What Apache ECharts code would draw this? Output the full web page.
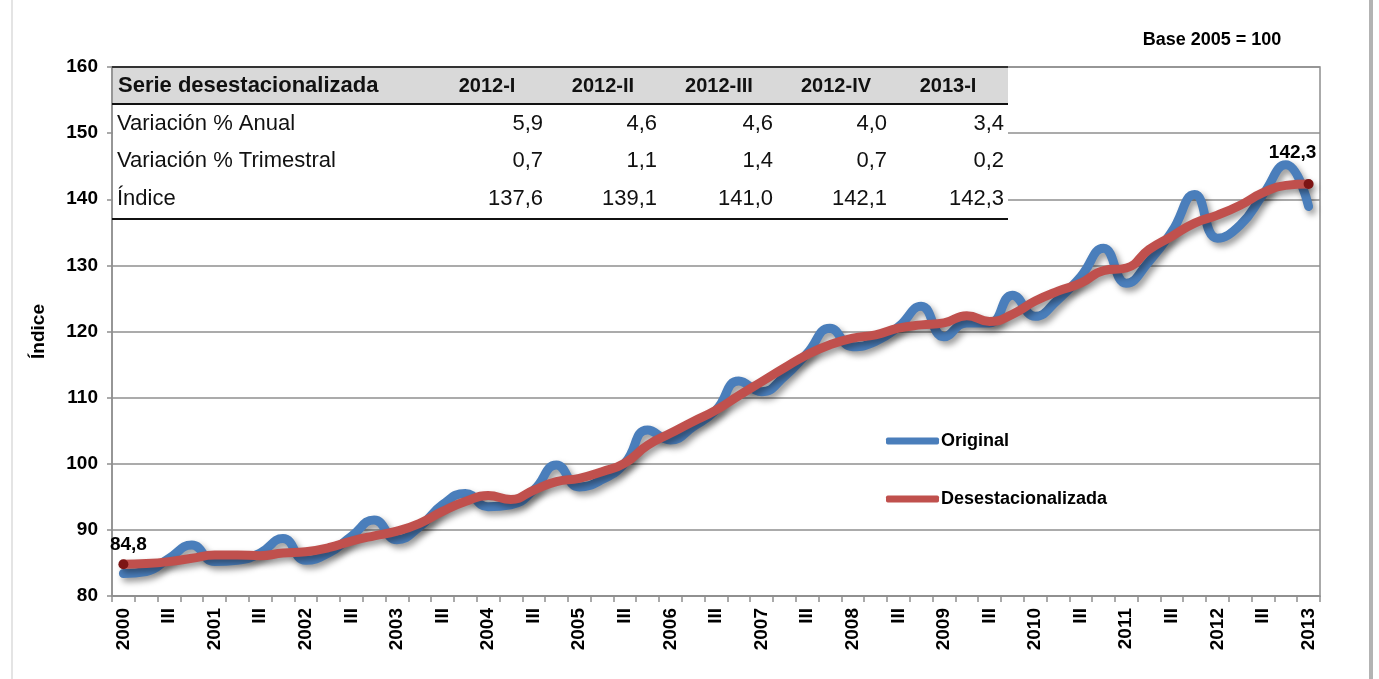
<!DOCTYPE html>
<html lang="es">
<head>
<meta charset="utf-8">
<title>Serie desestacionalizada</title>
<script src="https://cdn.jsdelivr.net/npm/echarts@6/dist/echarts.min.js"></script>
<style>
  html, body { margin: 0; padding: 0; background: #fff; }
  #main { width: 1379px; height: 679px; }
</style>
</head>
<body>
<div id="main"></div>
<script>
    // categorias: trimestres 2000-I ... 2013-I
    var years = [2000, 2001, 2002, 2003, 2004, 2005, 2006, 2007, 2008, 2009, 2010, 2011, 2012];
    var quarterNames = ['I', 'II', 'III', 'IV'];
    var categories = [];
    years.forEach(function (y) {
        quarterNames.forEach(function (q) { categories.push(y + '-' + q); });
    });
    categories.push('2013-I');

    // indice original
    var original = [
        83.4, 83.7, 85.7, 87.7,
        85.2, 85.4, 86.5, 88.7,
        85.4, 86.5, 89.0, 91.5,
        88.5, 90.5, 93.8, 95.5,
        93.5, 93.8, 96.0, 99.8,
        96.5, 97.6, 100.1, 105.1,
        103.6, 105.6, 108.1, 112.5,
        110.9, 113.2, 116.7, 120.5,
        117.7, 118.5, 120.7, 123.8,
        119.2, 121.3, 121.3, 125.5,
        122.3, 124.8, 128.3, 132.6,
        127.3, 130.6, 135.1, 140.7,
        134.1, 136.1, 140.7, 145.2,
        138.9
    ];
    // indice desestacionalizado
    var desest = [
        84.8, 84.9, 85.2, 85.7,
        86.2, 86.2, 86.1, 86.5,
        86.7, 87.3, 88.3, 89.1,
        89.8, 91.0, 92.8, 94.3,
        95.2, 94.6, 96.0, 97.3,
        97.8, 98.8, 100.1, 102.8,
        104.6, 106.4, 108.1, 110.3,
        112.4, 114.5, 116.5, 118.0,
        119.0, 119.5, 120.5, 121.0,
        121.3, 122.4, 121.5, 122.6,
        124.6, 126.1, 127.3, 129.2,
        129.6, 132.4, 134.4, 136.4,
        137.6, 139.1, 141.0, 142.1,
        142.3
    ];

    // tabla
    var tableTitle = 'Serie desestacionalizada';
    var tableCols = ['2012-I', '2012-II', '2012-III', '2012-IV', '2013-I'];
    var rowLabels = ['Variación % Anual', 'Variación % Trimestral', 'Índice'];
    var varAnual = ['5,9', '4,6', '4,6', '4,0', '3,4'];
    var varTrim = ['0,7', '1,1', '1,4', '0,7', '0,2'];
    var indice = ['137,6', '139,1', '141,0', '142,1', '142,3'];

    var FONT = '"Liberation Sans", Arial, sans-serif';
    var gridColor = '#8f8f8f';

    // --- tabla como elementos graficos ---
    var colCenters = [487, 603, 719, 836, 948];
    var colRights = [543, 657, 773, 887, 1004];
    var rowY = [124, 161, 199];
    var TZ = 100;
    var tableEls = [
        { type: 'rect', z: TZ, shape: { x: 113, y: 68, width: 895, height: 151 }, style: { fill: '#fff' } },
        { type: 'rect', z: TZ + 1, shape: { x: 113, y: 68, width: 895, height: 35 }, style: { fill: '#d9d9d9' } },
        { type: 'line', z: TZ + 2, shape: { x1: 112, y1: 67, x2: 1008, y2: 67 }, style: { stroke: '#333', lineWidth: 2 } },
        { type: 'line', z: TZ + 2, shape: { x1: 112, y1: 104, x2: 1008, y2: 104 }, style: { stroke: '#111', lineWidth: 2 } },
        { type: 'line', z: TZ + 2, shape: { x1: 112, y1: 219, x2: 1008, y2: 219 }, style: { stroke: '#111', lineWidth: 2 } },
        { type: 'text', z: TZ + 3, x: 118, y: 86, style: { text: tableTitle, font: 'bold 22px ' + FONT, fill: '#111', align: 'left', verticalAlign: 'middle' } }
    ];
    tableCols.forEach(function (c, i) {
        tableEls.push({ type: 'text', z: TZ + 3, x: colCenters[i], y: 86,
            style: { text: c, font: 'bold 20px ' + FONT, fill: '#111', align: 'center', verticalAlign: 'middle' } });
    });
    rowLabels.forEach(function (r, j) {
        tableEls.push({ type: 'text', z: TZ + 3, x: 117, y: rowY[j],
            style: { text: r, font: '22px ' + FONT, fill: '#111', align: 'left', verticalAlign: 'middle' } });
    });
    [varAnual, varTrim, indice].forEach(function (row, j) {
        row.forEach(function (v, i) {
            tableEls.push({ type: 'text', z: TZ + 3, x: colRights[i], y: rowY[j],
                style: { text: v, font: '22px ' + FONT, fill: '#111', align: 'right', verticalAlign: 'middle' } });
        });
    });

    var graphicEls = [
        { type: 'line', z: 0, shape: { x1: 12, y1: 0, x2: 12, y2: 679 }, style: { stroke: '#e4e4e4', lineWidth: 2 } },
        { type: 'line', z: 0, shape: { x1: 1371, y1: 0, x2: 1371, y2: 679 }, style: { stroke: '#b3b3b3', lineWidth: 4 } },
        { type: 'text', z: TZ, x: 1212, y: 40,
          style: { text: 'Base 2005 = 100', font: 'bold 18px ' + FONT, fill: '#000', align: 'center', verticalAlign: 'middle' } }
    ].concat(tableEls);

    var lastIdx = desest.length - 1;
    var endLabel = {
        show: true,
        fontFamily: FONT, fontWeight: 'bold', fontSize: 19, color: '#000',
        formatter: function (p) { return String(p.value).replace('.', ','); }
    };
    var desestData = desest.map(function (v, i) {
        if (i === 0) {
            return { value: v, symbol: 'circle', symbolSize: 10, itemStyle: { color: '#7d1515' },
                label: Object.assign({}, endLabel, { position: 'top', offset: [5, 0] }) };
        }
        if (i === lastIdx) {
            return { value: v, symbol: 'circle', symbolSize: 10, itemStyle: { color: '#7d1515' },
                label: Object.assign({}, endLabel, { position: 'top', offset: [-16, -12] }) };
        }
        return v;
    });

    var lineShadow = { shadowColor: 'rgba(0,0,0,0.4)', shadowBlur: 6, shadowOffsetX: 3, shadowOffsetY: 4 };

    var myChart = echarts.init(document.getElementById('main'));
    var option = {
        animation: false,
        backgroundColor: '#fff',
        textStyle: { fontFamily: FONT },
        graphic: { elements: graphicEls },
        grid: { left: 112, right: 59, top: 67, bottom: 83, show: true, borderColor: gridColor, borderWidth: 1.5 },
        legend: {
            data: ['Original', 'Desestacionalizada'],
            orient: 'vertical',
            left: 886, top: 432,
            itemWidth: 53, itemHeight: 7, itemGap: 40,
            icon: 'roundRect',
            padding: 0,
            textStyle: { fontFamily: FONT, fontWeight: 'bold', fontSize: 18, color: '#000', padding: [0, 0, 0, -3] }
        },
        xAxis: {
            type: 'category',
            data: categories,
            boundaryGap: true,
            axisLine: { lineStyle: { color: gridColor, width: 1.5 } },
            axisTick: { show: true, interval: 0, length: 6, lineStyle: { color: gridColor, width: 1.5 } },
            axisLabel: {
                interval: 0, rotate: 90, margin: 12,
                fontFamily: FONT, fontWeight: 'bold', fontSize: 19, color: '#000',
                formatter: function (v) {
                    var parts = v.split('-');
                    if (parts[1] === 'I') return parts[0];
                    if (parts[1] === 'III') return 'III';
                    return '';
                }
            },
            splitLine: { show: false }
        },
        yAxis: {
            type: 'value',
            min: 80, max: 160, interval: 10,
            name: 'Índice',
            nameLocation: 'middle',
            nameGap: 64,
            nameTextStyle: { fontFamily: FONT, fontWeight: 'bold', fontSize: 19, color: '#000' },
            axisLine: { show: true, lineStyle: { color: gridColor, width: 1.5 } },
            axisTick: { show: true, length: 5, lineStyle: { color: gridColor, width: 1.5 } },
            axisLabel: { margin: 14, fontFamily: FONT, fontWeight: 'bold', fontSize: 19, color: '#000' },
            splitLine: { lineStyle: { color: gridColor, width: 1.5 } }
        },
        series: [
            {
                name: 'Original',
                type: 'line',
                data: original,
                smooth: 0.5,
                symbol: 'none',
                color: '#4a7ebb',
                lineStyle: Object.assign({ width: 9, color: '#4a7ebb', cap: 'round' }, lineShadow),
                z: 2
            },
            {
                name: 'Desestacionalizada',
                type: 'line',
                data: desestData,
                smooth: 0.5,
                symbol: 'none',
                showSymbol: true,
                showAllSymbol: true,
                color: '#c0504d',
                lineStyle: Object.assign({ width: 9, color: '#c0504d', cap: 'round' }, lineShadow),
                z: 3
            }
        ]
    };
    myChart.setOption(option);
</script>
</body>
</html>
